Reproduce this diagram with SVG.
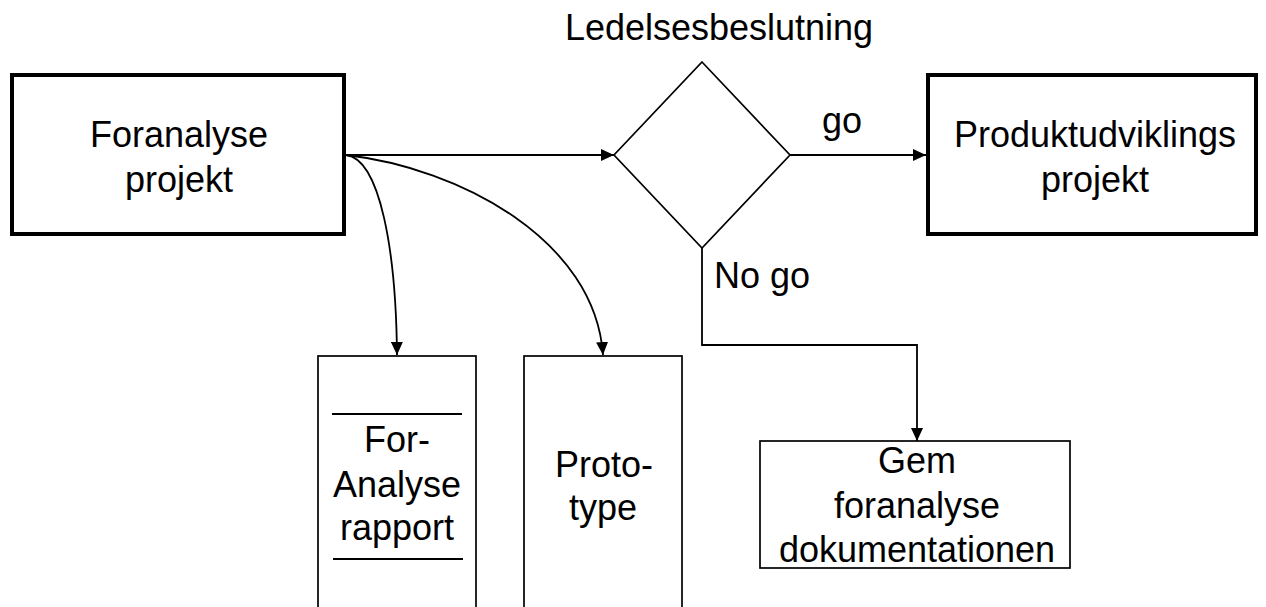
<svg xmlns="http://www.w3.org/2000/svg" width="1266" height="607" viewBox="0 0 1266 607">
<style>
text{font-family:"Liberation Sans",Arial,sans-serif;font-size:36px;fill:#000;text-anchor:middle}
.thick{fill:#fff;stroke:#000;stroke-width:4}
.thin{fill:#fff;stroke:#000;stroke-width:1.7}
.conn{fill:none;stroke:#000;stroke-width:1.8}
</style>
<defs>
<marker id="ah" markerUnits="userSpaceOnUse" markerWidth="13" markerHeight="12" refX="13" refY="6" orient="auto">
<path d="M0,0 L13,6 L0,12 z" fill="#000"/>
</marker>
</defs>
<rect width="1266" height="607" fill="#fff"/>
<g id="connectors">
<path class="conn" d="M346,155 L614,155" marker-end="url(#ah)"/>
<path class="conn" d="M346,155 C380,159 396,250 397,355" marker-end="url(#ah)"/>
<path class="conn" d="M346,155 C460,168 595,240 603,355" marker-end="url(#ah)"/>
<path class="conn" d="M790,155 L926,155" marker-end="url(#ah)"/>
<path class="conn" d="M702,248 L702,345 L917,345 L917,441" marker-end="url(#ah)"/>
</g>
<g id="foranalyse">
<rect class="thick" x="12" y="75" width="332" height="159"/>
<text x="179" y="147">Foranalyse</text>
<text x="179" y="192">projekt</text>
</g>
<g id="ledelsesbeslutning">
<polygon class="thin" points="702,62 790,155 702,248 614,155"/>
<text x="719" y="40">Ledelsesbeslutning</text>
</g>
<g id="produktudvikling">
<rect class="thick" x="928" y="75" width="328" height="159"/>
<text x="1095" y="147">Produktudviklings</text>
<text x="1095" y="192">projekt</text>
</g>
<g id="labels">
<text x="842" y="133">go</text>
<text x="762" y="288">No go</text>
</g>
<g id="rapport">
<rect class="thin" x="318" y="356" width="158" height="260"/>
<line class="conn" x1="332" y1="414" x2="462" y2="414"/>
<line class="conn" x1="333" y1="559" x2="463" y2="559"/>
<text x="397" y="452">For-</text>
<text x="397" y="497">Analyse</text>
<text x="397" y="540">rapport</text>
</g>
<g id="prototype">
<rect class="thin" x="524" y="356" width="158" height="260"/>
<text x="604" y="477">Proto-</text>
<text x="603" y="520">type</text>
</g>
<g id="gem">
<rect class="thin" x="760" y="441" width="310" height="127"/>
<text x="917" y="473">Gem</text>
<text x="917" y="518">foranalyse</text>
<text x="917" y="562">dokumentationen</text>
</g>
</svg>
